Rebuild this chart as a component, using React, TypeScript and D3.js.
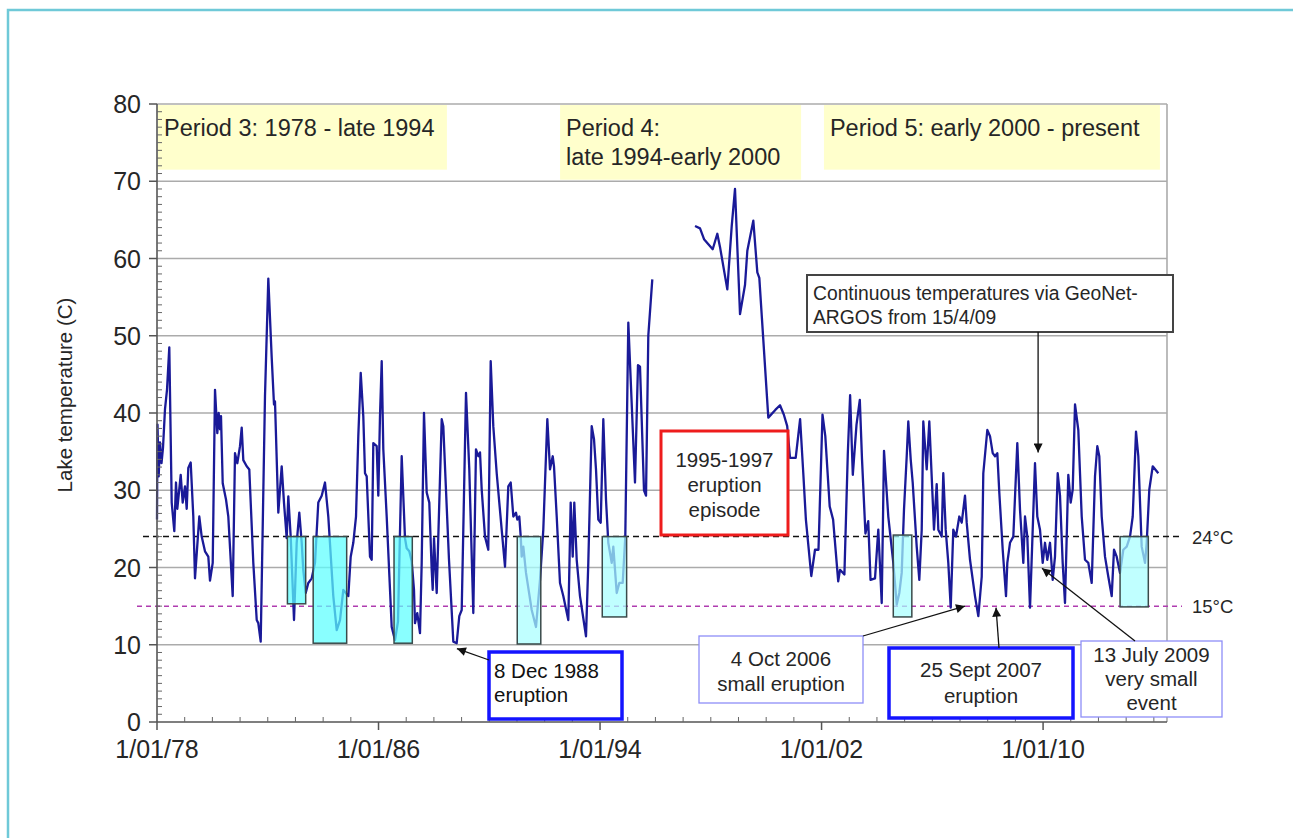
import React from "react";
import * as d3 from "d3";

// ---- Data ----
const seg1Years = [
  1978.0, 1978.018, 1978.061, 1978.108, 1978.163, 1978.217, 1978.289, 1978.361, 1978.444, 1978.531,
  1978.625, 1978.686, 1978.733, 1978.856, 1978.928, 1979.011, 1979.073, 1979.13, 1979.217, 1979.311,
  1979.372, 1979.528, 1979.614, 1979.733, 1979.853, 1979.914, 1980.012, 1980.095, 1980.178, 1980.228,
  1980.275, 1980.311, 1980.373, 1980.492, 1980.575, 1980.734, 1980.817, 1980.9, 1980.997, 1981.059,
  1981.117, 1981.239, 1981.333, 1981.478, 1981.601, 1981.658, 1981.745, 1981.9, 1982.02, 1982.142,
  1982.225, 1982.261, 1982.381, 1982.503, 1982.586, 1982.684, 1982.742, 1982.828, 1982.948, 1983.045,
  1983.139, 1983.226, 1983.283, 1983.37, 1983.464, 1983.587, 1983.706, 1983.825, 1983.948, 1984.067,
  1984.186, 1984.367, 1984.49, 1984.609, 1984.728, 1984.909, 1984.995, 1985.089, 1985.187, 1985.27,
  1985.357, 1985.45, 1985.512, 1985.573, 1985.692, 1985.754, 1985.812, 1985.934, 1985.992, 1986.053,
  1986.115, 1986.173, 1986.295, 1986.476, 1986.595, 1986.703, 1986.837, 1986.956, 1987.017, 1987.111,
  1987.198, 1987.281, 1987.317, 1987.4, 1987.498, 1987.559, 1987.642, 1987.74, 1987.834, 1987.92,
  1987.957, 1988.004, 1988.101, 1988.159, 1988.282, 1988.339, 1988.437, 1988.545, 1988.701, 1988.823,
  1988.917, 1989.004, 1989.062, 1989.159, 1989.278, 1989.423, 1989.52, 1989.603, 1989.665, 1989.726,
  1989.845, 1989.964, 1990.051, 1990.145, 1990.268, 1990.448, 1990.568, 1990.687, 1990.774, 1990.868,
  1990.965, 1991.012, 1991.084, 1991.135, 1991.171, 1991.229, 1991.326, 1991.532, 1991.687, 1991.832,
  1991.951, 1992.096, 1992.193, 1992.291, 1992.337, 1992.435, 1992.554, 1992.673, 1992.854, 1992.94,
  1993.013, 1993.07, 1993.157, 1993.276, 1993.493, 1993.576, 1993.699, 1993.782, 1993.854, 1993.937,
  1994.024, 1994.118, 1994.215, 1994.298, 1994.421, 1994.479, 1994.602, 1994.696, 1994.818, 1994.912,
  1995.021, 1995.262, 1995.37, 1995.443, 1995.587, 1995.66, 1995.743, 1995.887,
];
const seg1Temps = [
  26.2, 38.5, 31.8, 36.2, 33.5, 35.5, 40.5, 43.0, 48.5, 28.4,
  24.7, 31.0, 27.6, 32.0, 28.4, 30.5, 27.6, 32.9, 33.6, 26.6,
  18.6, 26.6, 24.0, 22.1, 21.4, 18.3, 20.6, 43.0, 37.4, 40.0,
  37.9, 39.6, 30.9, 28.8, 26.6, 16.3, 34.8, 33.5, 35.7, 38.1,
  33.9, 33.1, 32.7, 20.6, 13.2, 12.8, 10.4, 42.2, 57.4, 47.2,
  41.1, 41.5, 27.1, 33.1, 28.4, 23.8, 29.2, 24.0, 13.2, 23.2,
  27.1, 23.2, 19.7, 16.7, 18.0, 18.6, 20.6, 28.4, 29.3, 31.0,
  26.6, 16.3, 11.9, 13.2, 17.1, 16.3, 21.4, 23.2, 26.6, 37.0,
  45.2, 39.6, 32.2, 31.8, 21.4, 21.0, 36.1, 35.7, 29.3, 39.6,
  46.7, 35.3, 26.6, 12.3, 10.6, 13.0, 34.4, 23.8, 22.5, 22.1,
  20.8, 17.1, 12.8, 14.1, 11.5, 20.6, 40.0, 29.7, 28.4, 19.7,
  17.1, 23.8, 16.7, 24.0, 39.2, 38.3, 30.0, 21.0, 10.4, 10.2,
  13.7, 14.5, 24.9, 42.6, 32.7, 14.1, 35.3, 34.4, 34.9, 30.1,
  24.0, 22.3, 46.7, 38.3, 32.2, 24.9, 20.1, 30.5, 31.0, 26.6,
  27.1, 26.2, 26.6, 24.0, 21.4, 22.7, 19.3, 14.5, 12.3, 18.4,
  24.9, 39.2, 32.7, 34.4, 33.1, 26.6, 18.0, 16.3, 13.2, 28.4,
  21.4, 28.4, 21.0, 16.3, 11.1, 20.6, 38.3, 36.6, 32.7, 26.2,
  25.8, 39.2, 28.8, 23.2, 20.6, 22.7, 16.7, 18.0, 18.0, 24.0,
  51.7, 31.0, 46.2, 46.0, 30.0, 29.3, 50.0, 57.3,
];
const seg2Years = [
  1997.43, 1997.611, 1997.755, 1998.069, 1998.235, 1998.332, 1998.596, 1998.755, 1998.874, 1999.055,
  1999.236, 1999.319, 1999.535, 1999.68, 1999.752, 2000.077, 2000.329, 2000.499, 2000.636, 2000.759,
  2000.86, 2001.066, 2001.225, 2001.34, 2001.434, 2001.629, 2001.763, 2001.889, 2002.034, 2002.135,
  2002.294, 2002.417, 2002.601, 2002.666, 2002.825, 2002.948, 2003.031, 2003.128, 2003.262, 2003.381,
  2003.461, 2003.584, 2003.685, 2003.768, 2003.93, 2004.049, 2004.172, 2004.255, 2004.41, 2004.591,
  2004.714, 2004.808, 2004.894, 2004.977, 2005.075, 2005.132, 2005.219, 2005.291, 2005.436, 2005.53,
  2005.617, 2005.674, 2005.797, 2005.891, 2005.977, 2006.06, 2006.158, 2006.216, 2006.338, 2006.396,
  2006.483, 2006.577, 2006.664, 2006.757, 2006.855, 2006.974, 2007.061, 2007.18, 2007.242, 2007.361,
  2007.541, 2007.661, 2007.784, 2007.841, 2007.986, 2008.083, 2008.181, 2008.264, 2008.347, 2008.419,
  2008.542, 2008.661, 2008.708, 2008.805, 2008.925, 2009.069, 2009.166, 2009.286, 2009.347, 2009.43,
  2009.528, 2009.625, 2009.708, 2009.791, 2009.889, 2009.986, 2010.069, 2010.152, 2010.25, 2010.347,
  2010.43, 2010.528, 2010.611, 2010.708, 2010.791, 2010.911, 2010.997, 2011.07, 2011.153, 2011.272,
  2011.395, 2011.514, 2011.633, 2011.756, 2011.875, 2011.958, 2012.03, 2012.117, 2012.236, 2012.356,
  2012.478, 2012.561, 2012.658, 2012.778, 2012.897, 2013.02, 2013.139, 2013.237, 2013.356, 2013.439,
  2013.561, 2013.681, 2013.742, 2013.836, 2013.959, 2014.161,
];
const seg2Temps = [
  64.2, 63.9, 62.5, 61.2, 63.2, 61.5, 56.0, 64.2, 69.0, 52.8,
  56.6, 61.0, 64.9, 58.2, 57.5, 39.4, 40.4, 41.0, 39.8, 38.3,
  34.2, 34.2, 39.2, 32.2, 26.2, 18.9, 22.3, 22.3, 39.8, 37.0,
  27.9, 26.2, 18.2, 19.7, 19.1, 34.8, 42.3, 32.0, 38.5, 41.7,
  34.0, 24.4, 26.0, 18.4, 18.6, 24.9, 15.4, 35.1, 26.6, 20.6,
  15.2, 16.7, 19.3, 27.5, 34.4, 38.9, 34.0, 31.0, 22.7, 18.4,
  24.9, 38.9, 32.7, 38.9, 31.8, 24.9, 30.8, 24.9, 24.0, 32.2,
  24.9, 20.6, 14.8, 24.9, 24.0, 26.6, 25.8, 29.3, 25.8, 21.0,
  16.3, 13.7, 18.8, 32.2, 37.8, 37.0, 34.8, 34.4, 34.8, 29.7,
  22.3, 16.3, 20.6, 23.2, 24.0, 36.1, 27.5, 20.6, 26.6, 24.0,
  14.8, 24.9, 33.5, 26.6, 24.9, 20.6, 23.2, 21.0, 23.2, 18.4,
  21.4, 32.2, 29.3, 20.6, 15.4, 32.0, 28.4, 30.1, 41.1, 37.8,
  26.6, 21.0, 20.6, 18.0, 31.8, 35.7, 34.4, 26.6, 21.4, 18.8,
  16.3, 22.3, 21.4, 19.3, 22.3, 22.7, 24.0, 26.6, 37.6, 34.4,
  22.7, 20.6, 23.2, 30.1, 33.1, 32.2,
];

const yTicks = [0, 10, 20, 30, 40, 50, 60, 70, 80];
const xTickYears = [1978, 1986, 1994, 2002, 2010];
const xTickLabels = ["1/01/78", "1/01/86", "1/01/94", "1/01/02", "1/01/10"];

const thresholdValues = [24, 15];
const thresholdLabels = ["24°C", "15°C"];

// cyan highlight boxes (start year, end year, low temp, high temp)
const boxStart = [1982.71, 1983.64, 1986.56, 1991.01, 1994.08, 2004.59, 2012.78];
const boxEnd = [1983.37, 1984.85, 1987.22, 1991.86, 1994.96, 2005.26, 2013.8];
const boxLow = [15.3, 10.2, 10.2, 10.1, 13.6, 13.6, 14.9];
const boxHigh = [24, 24, 24, 24, 24, 24.2, 24];

// period labels
const periodStart = [1978, 1992.52, 2002.05];
const periodEnd = [1988.47, 2001.26, 2014.22];
const periodBottom = [71.5, 70.2, 71.5];
const periodLines = [
  ["Period 3: 1978 - late 1994"],
  ["Period 4:", "late 1994-early 2000"],
  ["Period 5: early 2000 - present"],
];

// arrow tips of annotations (year, temp)
const tip1988 = [1988.83, 9.5];
const tipGeoNet = [2009.82, 34.9];
const tip2006 = [2007.18, 15.0];
const tip2007 = [2008.3, 14.8];
const tip2009 = [2009.96, 19.9];

const FONT = "'Liberation Sans', Arial, Helvetica, sans-serif";

export default function App() {
  const W = 1293;
  const H = 838;
  const x = d3.scaleLinear().domain([1978, 2014.475]).range([157, 1167]);
  const y = d3.scaleLinear().domain([0, 80]).range([722, 104]);
  const [x0, x1] = x.range();
  const [y0, y1] = y.range();

  const seg1 = seg1Years.map((t, i) => [t, seg1Temps[i]] as [number, number]);
  const seg2 = seg2Years.map((t, i) => [t, seg2Temps[i]] as [number, number]);
  const line = d3
    .line<[number, number]>()
    .x((d) => x(d[0]))
    .y((d) => y(d[1]));

  const minorY = d3.range(0, 81, 1).filter((v) => v % 10 !== 0);
  const minorX = d3.range(1979, 2015, 1).filter((v) => (v - 1978) % 8 !== 0);

  const textColor = "#262626";
  const annSize = 20.5;

  return (
    <svg
      width={W}
      height={H}
      style={{ position: "absolute", left: 0, top: 0, background: "#fff" }}
      fontFamily={FONT}
    >
      <defs>
        <marker
          id="ah"
          viewBox="0 0 10 10"
          refX={10}
          refY={5}
          markerWidth={11}
          markerHeight={9}
          markerUnits="userSpaceOnUse"
          orient="auto"
        >
          <path d="M0,0 L10,5 L0,10 z" fill="#111" />
        </marker>
      </defs>
      {/* outer frame */}
      <rect x={8} y={10} width={W + 10} height={H + 10} fill="none" stroke="#6fc9d8" strokeWidth={2.5} />

      {/* period boxes */}
      {periodLines.map((lines, i) => (
        <g key={"p" + i}>
          <rect
            x={x(periodStart[i]) + 1}
            y={y1 + 1}
            width={x(periodEnd[i]) - x(periodStart[i]) - 1}
            height={y(periodBottom[i]) - y1 - 1}
            fill="#ffffcc"
          />
          {lines.map((s, j) => (
            <text
              key={j}
              x={x(periodStart[i]) + 7}
              y={y1 + 32 + j * 29}
              fontSize={23.5}
              fill={textColor}
            >
              {s}
            </text>
          ))}
        </g>
      ))}

      {/* gridlines */}
      {yTicks.filter((v) => v > 0).map((v) => (
        <line key={"g" + v} x1={x0} x2={x1} y1={y(v)} y2={y(v)} stroke="#ababab" strokeWidth={1.6} />
      ))}
      <line x1={x1} x2={x1} y1={y1} y2={y0} stroke="#ababab" strokeWidth={1.6} />

      {/* threshold lines */}
      {thresholdValues.map((v, i) => (
        <g key={"t" + i}>
          <line
            x1={i === 0 ? 143 : 137}
            x2={1182}
            y1={y(v)}
            y2={y(v)}
            stroke={i === 0 ? "#111" : "#b03cb0"}
            strokeWidth={1.5}
            strokeDasharray={i === 0 ? "6,4" : "5,4"}
          />
          <text x={1192} y={y(v) + 7} fontSize={18.5} fill={textColor}>
            {thresholdLabels[i]}
          </text>
        </g>
      ))}

      {/* data line */}
      <path d={line(seg1) || ""} fill="none" stroke="#1a1a98" strokeWidth={2.3} strokeLinejoin="round" />
      <path d={line(seg2) || ""} fill="none" stroke="#1a1a98" strokeWidth={2.3} strokeLinejoin="round" />

      {/* cyan boxes */}
      {boxStart.map((s, i) => (
        <rect
          key={"b" + i}
          x={x(s)}
          y={y(boxHigh[i])}
          width={x(boxEnd[i]) - x(s)}
          height={y(boxLow[i]) - y(boxHigh[i])}
          fill={i < 3 ? "#5cffff" : "#a8ffff"}
          fillOpacity={0.72}
          stroke="#3a4a4a"
          strokeWidth={1.5}
        />
      ))}

      {/* axes */}
      <line x1={x0} x2={x0} y1={y1} y2={y0} stroke="#555" strokeWidth={1.6} />
      <line x1={x0} x2={x1} y1={y0} y2={y0} stroke="#555" strokeWidth={1.6} />
      {minorY.map((v) => (
        <line key={"my" + v} x1={x0} x2={x0 + 5} y1={y(v)} y2={y(v)} stroke="#666" strokeWidth={1} />
      ))}
      {yTicks.map((v) => (
        <g key={"yt" + v}>
          <line x1={x0 - 8} x2={x0} y1={y(v)} y2={y(v)} stroke="#555" strokeWidth={1.5} />
          <text x={x0 - 16} y={y(v)} dy="0.36em" textAnchor="end" fontSize={25} fill={textColor}>
            {v}
          </text>
        </g>
      ))}
      {minorX.map((v) => (
        <line key={"mx" + v} x1={x(v)} x2={x(v)} y1={y0} y2={y0 - 5} stroke="#666" strokeWidth={1} />
      ))}
      {xTickYears.map((v, i) => (
        <g key={"xt" + v}>
          <line x1={x(v)} x2={x(v)} y1={y0} y2={y0 + 8} stroke="#555" strokeWidth={1.5} />
          <text x={x(v)} y={y0 + 36} textAnchor="middle" fontSize={25} fill={textColor}>
            {xTickLabels[i]}
          </text>
        </g>
      ))}
      <text
        transform={`translate(72, 395) rotate(-90)`}
        textAnchor="middle"
        fontSize={20.5}
        fill={textColor}
      >
        Lake temperature (C)
      </text>

      {/* annotation: 1995-1997 */}
      <rect x={661} y={431} width={127} height={104} fill="#fff" stroke="#ee1c1c" strokeWidth={3} />
      {["1995-1997", "eruption", "episode"].map((s, j) => (
        <text key={j} x={724.5} y={467 + j * 25} textAnchor="middle" fontSize={annSize} fill={textColor}>
          {s}
        </text>
      ))}

      {/* annotation: GeoNet */}
      <rect x={807} y={275} width={366} height={57} fill="#fff" stroke="#444" strokeWidth={2} />
      <text x={813} y={300} fontSize={19.3} fill={textColor}>
        Continuous temperatures via GeoNet-
      </text>
      <text x={813} y={324} fontSize={19.3} fill={textColor}>
        ARGOS from 15/4/09
      </text>
      <line
        x1={x(tipGeoNet[0])}
        x2={x(tipGeoNet[0])}
        y1={332}
        y2={y(tipGeoNet[1])}
        stroke="#111"
        strokeWidth={1.3}
        markerEnd="url(#ah)"
      />

      {/* annotation: 8 Dec 1988 */}
      <rect x={489} y={652} width={133} height={67} fill="#fff" stroke="#1414ff" strokeWidth={3.5} />
      <text x={494} y={678} fontSize={annSize} fill="#111">
        8 Dec 1988
      </text>
      <text x={494} y={702} fontSize={annSize} fill="#111">
        eruption
      </text>
      <line x1={489} y1={660} x2={x(tip1988[0])} y2={y(tip1988[1])} stroke="#111" strokeWidth={1.3} markerEnd="url(#ah)" />

      {/* annotation: 4 Oct 2006 */}
      <rect x={699} y={636} width={164} height={67} fill="#fff" stroke="#8e8ef8" strokeWidth={1.3} />
      <text x={781} y={666} textAnchor="middle" fontSize={annSize} fill={textColor}>
        4 Oct 2006
      </text>
      <text x={781} y={691} textAnchor="middle" fontSize={annSize} fill={textColor}>
        small eruption
      </text>
      <line x1={863} y1={636} x2={x(tip2006[0])} y2={y(tip2006[1])} stroke="#111" strokeWidth={1.3} markerEnd="url(#ah)" />

      {/* annotation: 25 Sept 2007 */}
      <rect x={889} y={648} width={184} height={70} fill="#fff" stroke="#1414ff" strokeWidth={3.5} />
      <text x={981} y={677} textAnchor="middle" fontSize={annSize} fill={textColor}>
        25 Sept 2007
      </text>
      <text x={981} y={703} textAnchor="middle" fontSize={annSize} fill={textColor}>
        eruption
      </text>
      <line x1={999} y1={648} x2={x(tip2007[0])} y2={y(tip2007[1])} stroke="#111" strokeWidth={1.3} markerEnd="url(#ah)" />

      {/* annotation: 13 July 2009 */}
      <rect x={1081} y={641} width={141} height={76} fill="#fff" stroke="#8e8ef8" strokeWidth={1.3} />
      {["13 July 2009", "very small", "event"].map((s, j) => (
        <text key={j} x={1151.5} y={662 + j * 24} textAnchor="middle" fontSize={annSize} fill={textColor}>
          {s}
        </text>
      ))}
      <line x1={1135} y1={641} x2={x(tip2009[0])} y2={y(tip2009[1])} stroke="#111" strokeWidth={1.3} markerEnd="url(#ah)" />
    </svg>
  );
}
